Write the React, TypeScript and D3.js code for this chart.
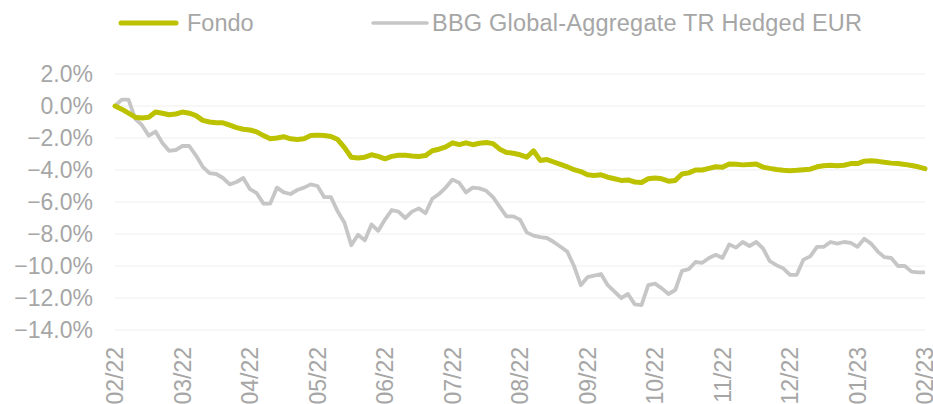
import React from "react";
import * as d3 from "d3";

const monthLabels = ["02/22","03/22","04/22","05/22","06/22","07/22","08/22","09/22","10/22","11/22","12/22","01/23","02/23"];
const yTicks = [2, 0, -2, -4, -6, -8, -10, -12, -14];
const seriesNames = ["Fondo", "BBG Global-Aggregate TR Hedged EUR"];

// values sampled every 0.1 month, from 02/22 to 02/23
const fondo = [
  0.0,-0.2,-0.45,-0.7,-0.75,-0.7,-0.38,-0.45,-0.55,-0.5,
  -0.38,-0.45,-0.6,-0.9,-1.0,-1.05,-1.05,-1.2,-1.35,-1.45,
  -1.5,-1.62,-1.85,-2.05,-2.0,-1.92,-2.05,-2.1,-2.05,-1.85,
  -1.82,-1.85,-1.9,-2.1,-2.6,-3.2,-3.25,-3.2,-3.05,-3.15,
  -3.3,-3.15,-3.08,-3.08,-3.12,-3.15,-3.1,-2.8,-2.7,-2.55,
  -2.3,-2.42,-2.3,-2.42,-2.33,-2.28,-2.35,-2.7,-2.9,-2.95,
  -3.05,-3.2,-2.8,-3.4,-3.35,-3.5,-3.65,-3.8,-3.98,-4.1,
  -4.3,-4.35,-4.3,-4.45,-4.55,-4.65,-4.62,-4.75,-4.78,-4.55,
  -4.5,-4.55,-4.7,-4.65,-4.25,-4.18,-4.0,-4.0,-3.9,-3.8,
  -3.83,-3.62,-3.64,-3.68,-3.65,-3.62,-3.82,-3.9,-3.97,-4.02,
  -4.05,-4.02,-3.98,-3.95,-3.8,-3.73,-3.7,-3.73,-3.7,-3.6,
  -3.6,-3.45,-3.42,-3.46,-3.52,-3.57,-3.6,-3.65,-3.72,-3.8,
  -3.92
];

const bbg = [
  0.0,0.4,0.4,-0.8,-1.2,-1.85,-1.6,-2.3,-2.8,-2.75,
  -2.5,-2.5,-3.1,-3.8,-4.2,-4.25,-4.5,-4.9,-4.75,-4.5,
  -5.2,-5.45,-6.1,-6.1,-5.1,-5.4,-5.5,-5.25,-5.1,-4.9,
  -5.0,-5.7,-5.7,-6.6,-7.3,-8.7,-8.05,-8.4,-7.4,-7.8,
  -7.1,-6.5,-6.6,-7.0,-6.6,-6.4,-6.7,-5.8,-5.5,-5.1,
  -4.6,-4.8,-5.4,-5.1,-5.15,-5.3,-5.7,-6.3,-6.9,-6.9,
  -7.1,-7.9,-8.1,-8.2,-8.25,-8.5,-8.8,-9.1,-10.0,-11.2,
  -10.7,-10.6,-10.5,-11.2,-11.6,-12.0,-11.75,-12.4,-12.45,-11.2,
  -11.1,-11.4,-11.75,-11.5,-10.3,-10.2,-9.75,-9.8,-9.5,-9.3,
  -9.5,-8.65,-8.85,-8.5,-8.75,-8.5,-8.9,-9.7,-9.95,-10.15,
  -10.55,-10.55,-9.6,-9.4,-8.8,-8.8,-8.5,-8.6,-8.5,-8.55,
  -8.8,-8.3,-8.6,-9.1,-9.45,-9.5,-10.0,-10.0,-10.35,-10.4,
  -10.4
];

const GREEN = "#bdc200";
const GREY = "#c6c6c6";
const TEXT = "#a6a6a6";
const FONT = "'Liberation Sans', Arial, sans-serif";

export default function App() {
  const W = 933, H = 404;
  const x = d3.scaleLinear().domain([0, monthLabels.length - 1]).range([115, 925]);
  const y = d3.scaleLinear().domain([-14, 2]).range([330, 74]);
  const line = d3.line<number>().x((_, i) => x(i / 10)).y((d) => y(d));
  const fmt = (v: number) => d3.format(".1f")(v) + "%";

  return (
    <svg width={W} height={H} style={{ position: "absolute", left: 0, top: 0, background: "#fff" }} fontFamily={FONT}>
      {/* legend */}
      <g>
        <line x1={121} x2={176} y1={23} y2={23} stroke={GREEN} strokeWidth={5} strokeLinecap="round" />
        <text x={187} y={31} fontSize={23.5} fill={TEXT}>{seriesNames[0]}</text>
        <line x1={373} x2={427} y1={23} y2={23} stroke={GREY} strokeWidth={3.5} strokeLinecap="round" />
        <text x={432} y={31} fontSize={23.5} fill={TEXT} textLength={430} lengthAdjust="spacing">{seriesNames[1]}</text>
      </g>
      {/* grid + y labels */}
      {yTicks.map((t) => (
        <g key={t}>
          <line x1={115} x2={925} y1={y(t)} y2={y(t)} stroke="#efefef" strokeWidth={1.2} />
          <text x={93} y={y(t)} dy="0.35em" textAnchor="end" fontSize={23} fill={TEXT}>{fmt(t)}</text>
        </g>
      ))}
      {/* x labels */}
      {monthLabels.map((m, i) => (
        <text key={m} transform={`translate(${x(i)},347) rotate(-90)`} dy="0.35em" textAnchor="end" fontSize={23} fill={TEXT}>{m}</text>
      ))}
      {/* series */}
      <path d={line(bbg) || ""} fill="none" stroke={GREY} strokeWidth={3.8} strokeLinejoin="round" />
      <path d={line(fondo) || ""} fill="none" stroke={GREEN} strokeWidth={5} strokeLinejoin="round" strokeLinecap="round" />
    </svg>
  );
}
